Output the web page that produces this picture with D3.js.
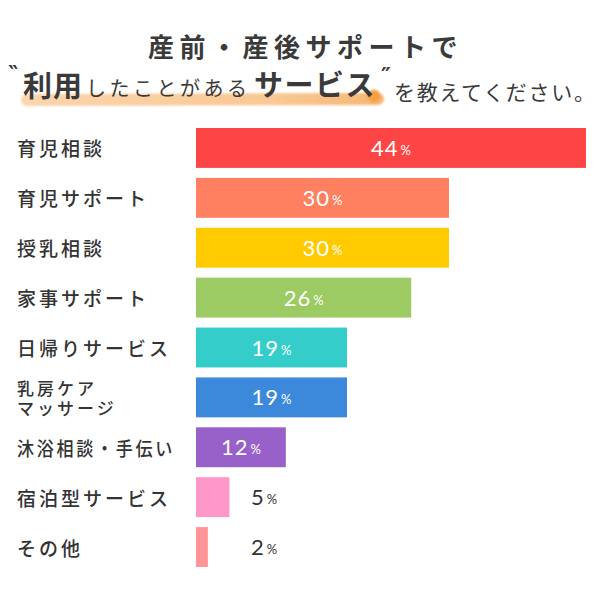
<!DOCTYPE html>
<html>
<head>
<meta charset="utf-8">
<script src="https://cdn.jsdelivr.net/npm/d3@7"></script>
<style>
  html, body { margin: 0; padding: 0; background: #fff; }
  svg { display: block; }
</style>
</head>
<body>
<div id="chart"></div>
<script>
const categories = ["育児相談", "育児サポート", "授乳相談", "家事サポート", "日帰りサービス", "乳房ケア\nマッサージ", "沐浴相談・手伝い", "宿泊型サービス", "その他"];
const values = [44, 30, 30, 26, 19, 19, 12, 5, 2];
const barColors = ["#fe4545", "#fe8060", "#ffcb00", "#9ccb64", "#34cdca", "#3c89db", "#9861c9", "#ff98c8", "#ff9597"];
const titleLine1 = "産前・産後サポートで";
const titleParts = ["‶", "利用", "したことがある", "サービス", "″", "を教えてください。"];

const W = 600, H = 600;
const svg = d3.select("#chart").append("svg").attr("width", W).attr("height", H);
svg.append("rect").attr("width", W).attr("height", H).attr("fill", "#fff");

const jp = "'Noto Sans CJK JP', 'Noto Sans', sans-serif";
const numFont = "Lato, 'Open Sans', sans-serif";

// ---- Title ----
svg.append("text")
  .attr("x", 148).attr("y", 45)
  .attr("dominant-baseline", "central")
  .attr("font-family", jp).attr("font-size", 26).attr("font-weight", 700)
  .attr("letter-spacing", 5.5).attr("fill", "#3a3a3a")
  .text(titleLine1);

// highlight brush stroke
const defs = svg.append("defs");
const grad = defs.append("linearGradient").attr("id", "hlg").attr("x1", "0%").attr("x2", "100%");
grad.append("stop").attr("offset", "0%").attr("stop-color", "#fbd5ac");
grad.append("stop").attr("offset", "70%").attr("stop-color", "#f9c894");
grad.append("stop").attr("offset", "100%").attr("stop-color", "#f7b774");
const blur = defs.append("filter").attr("id", "soft").attr("x", "-20%").attr("y", "-100%").attr("width", "140%").attr("height", "300%");
blur.append("feGaussianBlur").attr("stdDeviation", 0.8);

const hl = svg.append("g").attr("filter", "url(#soft)");
hl.append("line").attr("x1", 27).attr("x2", 378).attr("y1", 100).attr("y2", 99)
  .attr("stroke", "url(#hlg)").attr("stroke-width", 12).attr("stroke-linecap", "round");
hl.append("circle").attr("cx", 374).attr("cy", 96).attr("r", 6.5).attr("fill", "#f5a042");

const segs = [
  { text: titleParts[0], x: 8,   y: 81, size: 22, weight: 700, ls: 0, font: "'DejaVu Sans', sans-serif", base: "alphabetic" },
  { text: titleParts[1], x: 23,  y: 84, size: 29, weight: 700, ls: 1 },
  { text: titleParts[2], x: 86,  y: 87, size: 20, weight: 400, ls: 3.5 },
  { text: titleParts[3], x: 254, y: 83, size: 29, weight: 700, ls: 1.5 },
  { text: titleParts[4], x: 381, y: 83, size: 22, weight: 700, ls: 0, font: "'DejaVu Sans', sans-serif", base: "alphabetic" },
  { text: titleParts[5], x: 394, y: 91, size: 21, weight: 400, ls: 0, len: 201 }
];
const t2 = svg.selectAll("text.t2").data(segs).join("text")
  .attr("class", "t2")
  .attr("x", d => d.x).attr("y", d => d.y)
  .attr("dominant-baseline", d => d.base || "central")
  .attr("font-family", d => d.font || jp).attr("font-size", d => d.size).attr("font-weight", d => d.weight)
  .attr("letter-spacing", d => d.ls).attr("fill", "#3a3a3a")
  .text(d => d.text);
t2.filter(d => d.len).attr("textLength", d => d.len).attr("lengthAdjust", "spacing");

// ---- Bars ----
const data = categories.map((c, i) => ({ c, v: values[i], color: barColors[i] }));

const y = d3.scaleBand().domain(categories).range([128, 567]).paddingInner(0.2).paddingOuter(0);
const x = d3.scalePow().exponent(1.13).domain([0, 44]).range([196, 586]);

svg.selectAll("rect.bar").data(data).join("rect")
  .attr("class", "bar")
  .attr("x", x(0))
  .attr("y", d => y(d.c))
  .attr("width", d => x(d.v) - x(0))
  .attr("height", y.bandwidth())
  .attr("fill", d => d.color);

// category labels (one text element per line)
const lineData = [];
data.forEach(d => {
  const lines = d.c.split("\n");
  const cy = y(d.c) + y.bandwidth() / 2;
  const lh = 20;
  lines.forEach((ln, k) => lineData.push({
    t: ln, multi: lines.length > 1,
    yy: cy + (k - (lines.length - 1) / 2) * lh
  }));
});
svg.selectAll("text.cat").data(lineData).join("text")
  .attr("class", "cat")
  .attr("x", 17).attr("y", d => d.yy)
  .attr("font-family", jp).attr("font-weight", 500)
  .attr("font-size", d => d.multi ? 17 : 19)
  .attr("letter-spacing", 3).attr("fill", "#333")
  .attr("dominant-baseline", "central")
  .text(d => d.t)
  .each(function() {
    if (this.getComputedTextLength() > 162) {
      d3.select(this).attr("textLength", 158).attr("lengthAdjust", "spacingAndGlyphs");
    }
  });

// value labels
const inside = d => d.v >= 12;
const vl = svg.selectAll("text.val").data(data).join("text")
  .attr("class", "val")
  .attr("x", d => inside(d) ? (x(0) + x(d.v)) / 2 : x(0) + 55)
  .attr("y", d => y(d.c) + y.bandwidth() / 2 + 8)
  .attr("text-anchor", d => inside(d) ? "middle" : "start")
  .attr("font-family", numFont)
  .attr("fill", d => inside(d) ? "#fff" : "#333");
vl.append("tspan").attr("font-size", 22).attr("font-weight", 400).attr("letter-spacing", 1).text(d => d.v);
vl.append("tspan").attr("font-size", 13).attr("font-weight", 400).attr("dx", 2).attr("dy", -1).text("%");
</script>
</body>
</html>
